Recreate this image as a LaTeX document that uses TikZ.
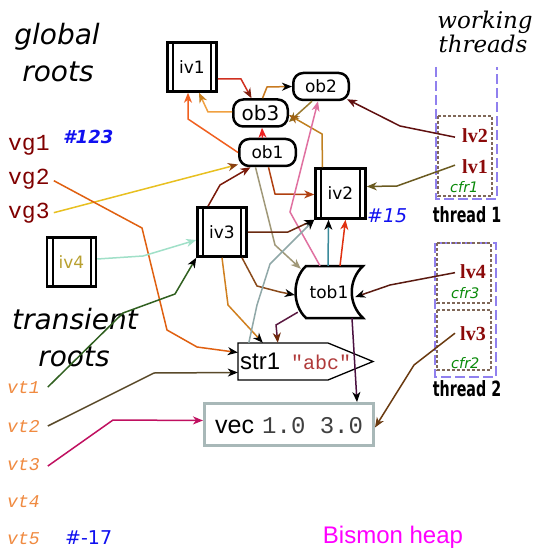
\documentclass[tikz,border=0pt]{standalone}
\usepackage{fontspec}
\usepackage{graphicx}
\usetikzlibrary{arrows.meta,calc}
\newfontfamily\djs{DejaVu Sans}
\newfontfamily\djserif{DejaVu Serif}
\newfontfamily\libsans{Liberation Sans}
\newfontfamily\libserif{Liberation Serif}
\newfontfamily\libmono{Liberation Mono}
\newcommand{\fsz}[1]{\fontsize{#1}{#1}\selectfont}

\definecolor{ivgold}{HTML}{B8A030}
\definecolor{vgred}{HTML}{800000}
\definecolor{vtorange}{HTML}{F08A40}
\definecolor{hashblue}{HTML}{1010F0}
\definecolor{lvred}{HTML}{8B0A0A}
\definecolor{cfrgreen}{HTML}{0A8A0A}
\definecolor{purp}{HTML}{9080EE}
\definecolor{brownd}{HTML}{806858}
\definecolor{vecgray}{HTML}{A8B8B8}
\definecolor{strred}{HTML}{B03A3A}
\definecolor{heapmag}{HTML}{FF00FF}
% connector colours
\definecolor{c-red1}{HTML}{D03020}
\definecolor{c-dred}{HTML}{802010}
\definecolor{c-lorange}{HTML}{F0A040}
\definecolor{c-orbrown}{HTML}{C88020}
\definecolor{c-ochre}{HTML}{C87A20}
\definecolor{c-olive}{HTML}{9A7A30}
\definecolor{c-olived}{HTML}{8A6A20}
\definecolor{c-ochre2}{HTML}{C08020}
\definecolor{c-brown2}{HTML}{A06010}
\definecolor{c-red2}{HTML}{EE2222}
\definecolor{c-orange}{HTML}{F06020}
\definecolor{c-yellow}{HTML}{E8C020}
\definecolor{c-brown3}{HTML}{8A4010}
\definecolor{c-maroon}{HTML}{7A1A0A}
\definecolor{c-rust}{HTML}{B04010}
\definecolor{c-tan}{HTML}{A09878}
\definecolor{c-pink}{HTML}{E070A0}
\definecolor{c-dbrown}{HTML}{6A2A10}
\definecolor{c-teal}{HTML}{3A8A9A}
\definecolor{c-red3}{HTML}{E03010}
\definecolor{c-brown4}{HTML}{8A4A1A}
\definecolor{c-ochre3}{HTML}{D08020}
\definecolor{c-grayblue}{HTML}{90A8A8}
\definecolor{c-plum}{HTML}{5A1840}
\definecolor{c-brown5}{HTML}{702A0A}
\definecolor{c-dplum}{HTML}{4A1040}
\definecolor{c-brown6}{HTML}{6A3A10}
\definecolor{c-dbrown2}{HTML}{5A1A10}
\definecolor{c-wine}{HTML}{601010}
\definecolor{c-olive2}{HTML}{6A5A20}
\definecolor{c-orange2}{HTML}{E06010}
\definecolor{c-aqua}{HTML}{A0E0C8}
\definecolor{c-green}{HTML}{306020}
\definecolor{c-dolive}{HTML}{5A4A2A}
\definecolor{c-crimson}{HTML}{C01060}

\begin{document}
\begin{tikzpicture}[x=1pt,y=-1pt,
  ivbox/.style={draw, line width=2.5pt, fill=white, minimum width=49pt, minimum height=49pt, inner sep=0pt,
    font=\djs\fsz{17},
    path picture={
      \draw[line width=2pt] ([xshift=5.5pt]path picture bounding box.north west) -- ([xshift=5.5pt]path picture bounding box.south west);
      \draw[line width=2pt] ([xshift=-5.5pt]path picture bounding box.north east) -- ([xshift=-5.5pt]path picture bounding box.south east);
    }},
  obbox/.style={draw, line width=2.5pt, fill=white, rounded corners=10pt, minimum height=27pt, inner sep=0pt, font=\djs\fsz{17}},
  lab/.style={anchor=base west, inner sep=0pt},
  clab/.style={anchor=base, inner sep=0pt},
  lvlab/.style={lab, font=\libserif\bfseries\fsz{20}, text=lvred},
  cfrlab/.style={lab, font=\djs\itshape\fsz{14.5}, text=cfrgreen},
  thlab/.style={clab, font=\djs\bfseries\fsz{21}},
  vglab/.style={lab, font=\libmono\fsz{23}, text=vgred},
  vtlab/.style={lab, font=\libmono\itshape\fsz{18}, text=vtorange},
  rootlab/.style={clab, font=\djs\itshape\fsz{28}},
  purpdash/.style={draw=purp, line width=2.6pt, dash pattern=on 10pt off 4pt},
  browndash/.style={draw=brownd, line width=1.6pt, dash pattern=on 3pt off 2pt},
  conn/.style={line width=1.5pt, color=#1, -{Stealth[length=10pt,width=8pt,inset=3pt]}},
  connk/.style={line width=1.5pt, color=#1, -{Stealth[length=10pt,width=8pt,inset=3pt,color=black]}},
  connh/.style 2 args={line width=1.5pt, color=#1, -{Stealth[length=10pt,width=8pt,inset=3pt,color=#2]}},
]
\fill[white] (0,0) rectangle (540,548);
\useasboundingbox (0,0) rectangle (540,548);

% ---- titles ----
\node[rootlab] (glob1) at (57,45) {global};
\node[rootlab] (glob2) at (58,82) {roots};
\node[rootlab] (trans1) at (75,329) {transient};
\node[rootlab] (trans2) at (74,366) {roots};
\node[clab, font=\djserif\itshape\fsz{23}] (work1) at (485,29) {working};
\node[clab, font=\djserif\itshape\fsz{23}] (work2) at (483,53) {threads};
\node[clab, font=\libsans\fsz{24}, text=heapmag] (heap) at (393,543) {Bismon heap};

% ---- global roots ----
\node[vglab] (vg1) at (8,150) {vg1};
\node[vglab] (vg2) at (8,184) {vg2};
\node[vglab] (vg3) at (8,218) {vg3};
\node[lab, font=\djs\bfseries\itshape\fsz{18}, text=hashblue] (h123) at (63,144) {\#123};

% ---- transient roots ----
\node[vtlab] (vt1) at (7,393) {vt1};
\node[vtlab] (vt2) at (7,432) {vt2};
\node[vtlab] (vt3) at (7,470) {vt3};
\node[vtlab] (vt4) at (7,507) {vt4};
\node[vtlab] (vt5) at (7,544) {vt5};
\node[lab, font=\djs\fsz{19}, text=hashblue] (hm17) at (65,544) {\#-17};

% ---- threads ----
\draw[purpdash] (436,67) -- (436,199) -- (497,199) -- (497,67);
\draw[browndash] (438,116) rectangle (492,196);
\draw[purpdash] (435,243) rectangle (496,377);
\draw[browndash] (437,243) rectangle (491,303);
\draw[browndash] (437,310) rectangle (491,370);
\node[lvlab] (lv2) at (462,143) {lv2};
\node[lvlab] (lv1) at (462,173) {lv1};
\node[cfrlab] (cfr1) at (450,193) {cfr1};
\node[thlab] (th1) at (467,222) {\scalebox{0.68}[1]{thread 1}};
\node[lvlab] (lv4) at (460,278) {lv4};
\node[cfrlab] (cfr3) at (451,298) {cfr3};
\node[lvlab] (lv3) at (460,340) {lv3};
\node[cfrlab] (cfr2) at (451,368) {cfr2};
\node[thlab] (th2) at (467,396) {\scalebox{0.68}[1]{thread 2}};

% ---- heap values ----
\node[ivbox] (iv1) at (192,67) {iv1};
\node[obbox, minimum width=55.5pt] (ob2) at (321,86.5) {ob2};
\node[obbox, minimum width=54.5pt, font=\djs\fsz{20}] (ob3) at (260.5,113) {ob3};
\node[obbox, minimum width=56.5pt] (ob1) at (267.5,152.5) {ob1};
\node[ivbox, minimum width=50pt, minimum height=50pt] (iv2) at (340.5,193.5) {iv2};
\node[ivbox] (iv3) at (222,232) {iv3};
\node[ivbox, text=ivgold] (iv4) at (71.5,262) {iv4};
\node[lab, font=\djs\itshape\fsz{19}, text=hashblue] (h15) at (367,222) {\#15};

% tob1 outline: convex left side, concave right side
\draw[line width=2.5pt, fill=white] (306,266) -- (363,266) .. controls (348,280) and (348,304) .. (363,318)
  -- (306,318) .. controls (292,305) and (292,279) .. (306,266) -- cycle;
\node[minimum width=68pt, minimum height=52pt, inner sep=0pt, font=\djs\fsz{17}] (tob1) at (329,292) {tob1};

% str1: pointed string box
\draw[line width=1.3pt, fill=white] (238,343) -- (328,343) -- (373,361.5) -- (328,380) -- (238,380) -- cycle;
\node[minimum width=135pt, minimum height=37pt, inner sep=0pt] (str1) at (305.5,361.5) {};
\node[lab, font=\libsans\fsz{24}] (str1name) at (240,369) {str1};
\node[lab, font=\libmono\fsz{20}, text=strred] (str1val) at (291,369) {"abc"};

% vec
\node[draw=vecgray, line width=3pt, fill=white, minimum width=169pt, minimum height=42pt, inner sep=0pt] (vec) at (289,424.5) {};
\node[lab, font=\libsans\fsz{25}] (vecname) at (215,433) {vec};
\node[lab, font=\libmono\fsz{24}, text=black!75] (vecval) at (262,433) {1.0 3.0};

% ---- connectors ----
\draw[connh={c-red1}{c-dred}] ($(iv1.east)+(0,12)$) -- (241,79) -- ($(ob3.north)+(-9,0)$);
\draw[connh={c-lorange}{c-orbrown}] ($(ob3.west)+(0,-1)$) -- (208,112) -- ($(iv1.south)+(7,0)$);
\draw[connk=c-ochre] ($(ob3.north)+(2,0)$) -- (267,87) -- (ob2.west);
\draw[connh={c-olive}{c-olived}] ($(ob2.south)+(-9,0)$) -- ($(ob3.east)+(0,9)$);
\draw[connh={c-ochre2}{c-brown2}] ($(iv2.north)+(-18,0)$) -- (322,134) -- ($(ob3.east)+(0,2)$);
\draw[conn=c-red2] ($(ob1.north)+(-5,0)$) -- ($(ob3.south)+(1.5,0)$);
\draw[conn=c-orange] (ob1.west) -- (188,119) -- ($(iv1.south)+(-4,0)$);
\draw[connh={c-yellow}{c-brown3}] ($(vg3.east)+(4,0)$) -- ($(ob1.west)+(0,12)$);
\draw[conn=c-maroon] ($(iv3.north)+(-14,0)$) -- (220,185) -- ($(ob1.south)+(-17,0)$);
\draw[conn=c-rust] ($(ob1.south)+(1,0)$) -- (275,194) -- ($(iv2.west)+(0,1)$);
\draw[conn=c-tan] ($(ob1.south)+(-12,0)$) -- (275,245) -- ($(tob1.north west)+(6,3)$);
\draw[conn=c-pink] ($(tob1.north)+(-9,0)$) -- (290,212) -- ($(ob2.south)+(-3,0)$);
\draw[connk=c-dbrown] (iv3.east) -- (288,232) -- (iv2.south west);
\draw[connk=c-teal] ($(tob1.north)+(-1,0)$) -- ($(iv2.south)+(-12,0)$);
\draw[conn=c-red3] ($(tob1.north)+(11,0)$) -- ($(iv2.south)+(5,0)$);
\draw[connk=c-brown4] ($(iv3.south)+(20,0)$) -- (257,286) -- (280,292) -- ($(tob1.west)+(0,3)$);
\draw[connk=c-ochre3] (iv3.south) -- (228,305) -- ($(str1.north west)+(25,0)$);
\draw[connk=c-grayblue] ($(str1.north west)+(11,0)$) -- (257,305) -- (270,264) -- (iv2.south west);
\draw[connh={c-plum}{c-brown5}] ($(tob1.south west)+(3,-6)$) -- (276,325) -- ($(str1.north west)+(40,0)$);
\draw[connk=c-dplum] ($(tob1.south)+(23,0)$) -- ($(vec.north)+(68,0)$);
\draw[conn=c-brown6] ($(lv3.west)+(-5,0)$) -- (414,365) -- ($(vec.east)+(0,3)$);
\draw[connk=c-dbrown2] ($(lv4.west)+(-5,1.5)$) -- (390,285) -- ($(tob1.east)+(-8,5)$);
\draw[conn=c-wine] ($(lv2.west)+(-7,1)$) -- (400,126) -- ($(ob2.south east)+(-3,-2)$);
\draw[conn=c-olive2] ($(lv1.west)+(-7,-1)$) -- (397,186) -- ($(iv2.east)+(0,-7)$);
\draw[connk=c-orange2] ($(vg2.east)+(4,2)$) -- (142,228) -- (167,330) -- (197,347) -- ($(str1.west)+(0,-9)$);
\draw[conn=c-aqua] ($(iv4.east)+(0,-3)$) -- (143,256) -- ($(iv3.west)+(0,8)$);
\draw[connk=c-green] ($(vt1.east)+(8,0)$) -- (123,313) -- (175,294) -- (iv3.south west);
\draw[connk=c-dolive] ($(vt2.east)+(8,0)$) -- (154,373) -- ($(str1.west)+(0,11)$);
\draw[conn=c-crimson] ($(vt3.east)+(8,2)$) -- (113,420) -- ($(vec.west)+(0,-4)$);
\end{tikzpicture}
\end{document}
